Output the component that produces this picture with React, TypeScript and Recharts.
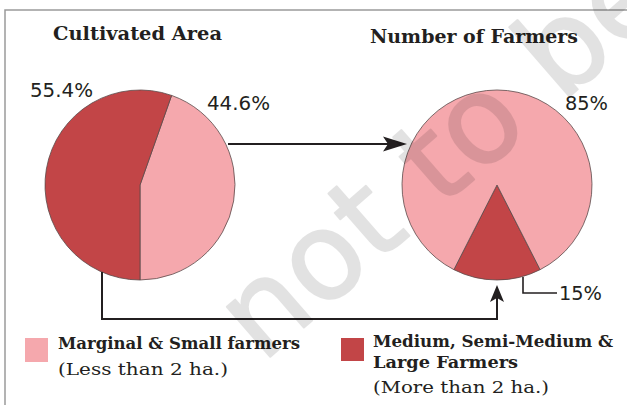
import React from 'react';
import { PieChart, Pie, Cell } from 'recharts';

const groups = ['Marginal & Small farmers', 'Medium, Semi-Medium & Large Farmers'];
const groupNotes = ['(Less than 2 ha.)', '(More than 2 ha.)'];
const cultivatedArea = [44.6, 55.4];
const numberOfFarmers = [85, 15];
const chartTitles = ['Cultivated Area', 'Number of Farmers'];

const COLORS = ['#F5A8AD', '#C24547'];
const SERIF = '"DejaVu Serif", "Liberation Serif", serif';
const SANS = '"DejaVu Sans", "Liberation Sans", sans-serif';

const W = 627;
const H = 405;

const areaData = groups.map((name, i) => ({ name, value: cultivatedArea[i], color: COLORS[i] }));
// small slice first so it can be centred at the bottom
const farmerData = [1, 0].map(i => ({ name: groups[i], value: numberOfFarmers[i], color: COLORS[i] }));

const pct = (v: number) => `${v}%`;

const Label: React.FC<{ x: number; y: number; w: number; size: number; bold?: boolean; font?: string; children: string }> = ({ x, y, w, size, bold, font, children }) => (
  <text
    x={x}
    y={y}
    fontSize={size}
    fontFamily={font || SERIF}
    fontWeight={bold ? 700 : 400}
    fill="#231f20"
    textLength={w}
    lengthAdjust="spacingAndGlyphs"
  >
    {children}
  </text>
);

const App: React.FC = () => {
  return (
    <div style={{ position: 'absolute', left: 0, top: 0, width: W, height: H, background: '#fff' }}>
      <PieChart width={W} height={H} margin={{ top: 0, right: 0, bottom: 0, left: 0 }}>
        <Pie
          data={areaData}
          dataKey="value"
          cx={140}
          cy={185}
          outerRadius={95}
          startAngle={-90}
          endAngle={270}
          stroke="#5a4a4a"
          strokeWidth={0.8}
          isAnimationActive={false}
        >
          {areaData.map((d, i) => (
            <Cell key={`a-${i}`} fill={d.color} />
          ))}
        </Pie>
        <Pie
          data={farmerData}
          dataKey="value"
          cx={497}
          cy={185}
          outerRadius={95}
          startAngle={-90 - (numberOfFarmers[1] / 100) * 180}
          endAngle={270 - (numberOfFarmers[1] / 100) * 180}
          stroke="#5a4a4a"
          strokeWidth={0.8}
          isAnimationActive={false}
        >
          {farmerData.map((d, i) => (
            <Cell key={`f-${i}`} fill={d.color} />
          ))}
        </Pie>
      </PieChart>

      <svg width={W} height={H} style={{ position: 'absolute', left: 0, top: 0, pointerEvents: 'none' }}>
        {/* frame */}
        <polyline points={`5,${H} 5,10 ${W},10`} fill="none" stroke="#9a9a9a" strokeWidth={1.5} />

        {/* titles */}
        <Label x={53} y={40} w={169} size={18} bold>{chartTitles[0]}</Label>
        <Label x={370} y={43} w={208} size={18} bold>{chartTitles[1]}</Label>

        {/* slice labels */}
        <Label x={30} y={97} w={63} size={19} font={SANS}>{pct(cultivatedArea[1])}</Label>
        <Label x={207} y={110} w={63} size={19} font={SANS}>{pct(cultivatedArea[0])}</Label>
        <Label x={565} y={110} w={43} size={19} font={SANS}>{pct(numberOfFarmers[0])}</Label>
        <Label x={559} y={300} w={43} size={19} font={SANS}>{pct(numberOfFarmers[1])}</Label>
        <polyline points="523,277 523,293 557,293" fill="none" stroke="#231f20" strokeWidth={1.6} />

        {/* arrows */}
        <line x1={228} y1={144} x2={390} y2={144} stroke="#231f20" strokeWidth={2} />
        <polygon points="407,144 383,136.5 388,144 383,151.5" fill="#231f20" />
        <polyline points="102,272 102,319 497,319 497,298" fill="none" stroke="#231f20" strokeWidth={2} />
        <polygon points="497,285 490,302 497,298 504,302" fill="#231f20" />

        {/* legend */}
        <rect x={25} y={338} width={23} height={24} fill={COLORS[0]} />
        <Label x={58} y={349} w={242} size={16} bold>{groups[0]}</Label>
        <Label x={58} y={375} w={170} size={17}>{groupNotes[0]}</Label>

        <rect x={341} y={338} width={23} height={23} fill={COLORS[1]} />
        <Label x={373} y={347} w={240} size={16} bold>{'Medium, Semi-Medium &'}</Label>
        <Label x={373} y={368} w={145} size={16} bold>{'Large Farmers'}</Label>
        <Label x={373} y={393} w={176} size={17}>{groupNotes[1]}</Label>

        {/* watermark */}
        <g opacity={0.11}>
          <text
            x={262}
            y={364}
            fontSize={121}
            fontFamily={SANS}
            fill="#000"
            stroke="#000"
            strokeWidth={2}
            strokeLinejoin="round"
            transform="rotate(-41 262 364)"
          >
            not to be
          </text>
        </g>
      </svg>
    </div>
  );
};

export default App;
